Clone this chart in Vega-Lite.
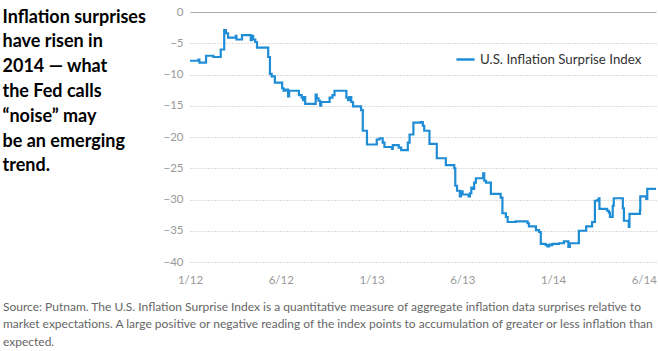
{
  "$schema": "https://vega.github.io/schema/vega-lite/v6.json",
  "width": 466,
  "height": 250,
  "padding": {"top": 6, "left": 2, "right": 2, "bottom": 4},
  "background": "white",
  "config": {
    "view": {"stroke": null},
    "font": "Lato"
  },
  "title": {
    "text": [
      "Source: Putnam. The U.S. Inflation Surprise Index is a quantitative measure of aggregate inflation data surprises relative to",
      "market expectations. A large positive or negative reading of the index points to accumulation of greater or less inflation than",
      "expected."
    ],
    "orient": "bottom",
    "anchor": "start",
    "frame": "bounds",
    "baseline": "top",
    "offset": 16,
    "dx": 1,
    "font": "Lato",
    "fontSize": 12,
    "fontWeight": "normal",
    "color": "#666666",
    "lineHeight": 17.5
  },
  "data": {
    "values": [
      {"w": 0, "v": -7.8},
      {"w": 2.4, "v": -7.6},
      {"w": 2.7, "v": -8.1},
      {"w": 4.6, "v": -7.0},
      {"w": 6.7, "v": -7.2},
      {"w": 8.8, "v": -6.0},
      {"w": 9.8, "v": -2.9},
      {"w": 10.3, "v": -3.4},
      {"w": 10.9, "v": -4.1},
      {"w": 13.1, "v": -3.8},
      {"w": 13.3, "v": -4.4},
      {"w": 14.9, "v": -3.7},
      {"w": 17.4, "v": -4.5},
      {"w": 17.7, "v": -3.8},
      {"w": 18.1, "v": -4.4},
      {"w": 18.7, "v": -4.8},
      {"w": 19.2, "v": -5.7},
      {"w": 22.4, "v": -7.2},
      {"w": 22.9, "v": -9.9},
      {"w": 23.4, "v": -10.3},
      {"w": 24.3, "v": -11.3},
      {"w": 26.4, "v": -12.2},
      {"w": 26.8, "v": -12.6},
      {"w": 27.4, "v": -12.4},
      {"w": 28.1, "v": -13.5},
      {"w": 28.4, "v": -12.6},
      {"w": 31.2, "v": -13.3},
      {"w": 32.0, "v": -13.7},
      {"w": 32.4, "v": -14.1},
      {"w": 32.7, "v": -13.6},
      {"w": 33.0, "v": -14.7},
      {"w": 36.0, "v": -13.2},
      {"w": 36.3, "v": -13.8},
      {"w": 36.8, "v": -14.2},
      {"w": 37.3, "v": -15.0},
      {"w": 37.6, "v": -14.4},
      {"w": 40.0, "v": -13.7},
      {"w": 40.8, "v": -13.3},
      {"w": 41.4, "v": -12.6},
      {"w": 44.8, "v": -13.7},
      {"w": 45.3, "v": -14.1},
      {"w": 45.7, "v": -13.6},
      {"w": 46.2, "v": -14.4},
      {"w": 46.7, "v": -15.1},
      {"w": 49.0, "v": -15.7},
      {"w": 49.5, "v": -19.0},
      {"w": 50.7, "v": -21.2},
      {"w": 53.5, "v": -20.4},
      {"w": 54.3, "v": -20.2},
      {"w": 55.2, "v": -20.9},
      {"w": 55.7, "v": -21.6},
      {"w": 57.9, "v": -21.9},
      {"w": 58.1, "v": -21.3},
      {"w": 59.8, "v": -21.7},
      {"w": 60.5, "v": -22.1},
      {"w": 62.4, "v": -20.9},
      {"w": 62.9, "v": -19.6},
      {"w": 64.0, "v": -17.7},
      {"w": 66.2, "v": -17.6},
      {"w": 66.7, "v": -18.2},
      {"w": 67.1, "v": -19.0},
      {"w": 68.6, "v": -21.1},
      {"w": 70.7, "v": -23.4},
      {"w": 73.3, "v": -24.5},
      {"w": 75.7, "v": -25.0},
      {"w": 76.0, "v": -27.8},
      {"w": 76.5, "v": -28.6},
      {"w": 77.3, "v": -29.5},
      {"w": 77.6, "v": -28.7},
      {"w": 78.1, "v": -29.2},
      {"w": 79.8, "v": -29.5},
      {"w": 80.2, "v": -29.0},
      {"w": 80.6, "v": -28.1},
      {"w": 80.9, "v": -28.3},
      {"w": 81.4, "v": -27.3},
      {"w": 81.9, "v": -26.6},
      {"w": 84.0, "v": -25.8},
      {"w": 84.3, "v": -27.0},
      {"w": 84.8, "v": -27.3},
      {"w": 86.2, "v": -29.1},
      {"w": 89.0, "v": -29.7},
      {"w": 89.5, "v": -32.2},
      {"w": 90.5, "v": -32.8},
      {"w": 91.0, "v": -33.6},
      {"w": 93.3, "v": -33.5},
      {"w": 96.7, "v": -33.8},
      {"w": 97.1, "v": -34.3},
      {"w": 99.1, "v": -34.9},
      {"w": 100.0, "v": -35.2},
      {"w": 100.5, "v": -37.1},
      {"w": 101.9, "v": -37.3},
      {"w": 102.4, "v": -37.5},
      {"w": 102.9, "v": -37.2},
      {"w": 103.3, "v": -37.3},
      {"w": 103.8, "v": -37.1},
      {"w": 105.7, "v": -37.0},
      {"w": 107.1, "v": -36.7},
      {"w": 108.4, "v": -37.6},
      {"w": 108.8, "v": -37.0},
      {"w": 111.4, "v": -35.0},
      {"w": 113.5, "v": -34.3},
      {"w": 115.2, "v": -33.6},
      {"w": 116.0, "v": -30.2},
      {"w": 116.7, "v": -30.1},
      {"w": 117.1, "v": -29.8},
      {"w": 117.3, "v": -31.5},
      {"w": 119.5, "v": -31.8},
      {"w": 120.0, "v": -32.1},
      {"w": 120.3, "v": -32.8},
      {"w": 121.0, "v": -32.7},
      {"w": 121.1, "v": -31.0},
      {"w": 121.4, "v": -29.8},
      {"w": 124.0, "v": -31.4},
      {"w": 124.3, "v": -33.4},
      {"w": 125.7, "v": -34.4},
      {"w": 125.9, "v": -32.3},
      {"w": 128.9, "v": -31.7},
      {"w": 129.0, "v": -29.5},
      {"w": 130.7, "v": -29.9},
      {"w": 131.0, "v": -28.3},
      {"w": 133.5, "v": -28.3}
    ]
  },
  "mark": {"type": "line", "interpolate": "step-after", "strokeWidth": 2.2, "strokeJoin": "miter"},
  "encoding": {
    "x": {
      "field": "w",
      "type": "quantitative",
      "scale": {"domain": [0, 133.5], "nice": false, "zero": false},
      "axis": {
        "values": [0, 26, 52, 78, 104, 130],
        "labelExpr": "datum.value == 0 ? '1/12' : datum.value == 26 ? '6/12' : datum.value == 52 ? '1/13' : datum.value == 78 ? '6/13' : datum.value == 104 ? '1/14' : '6/14'",
        "title": null,
        "grid": false,
        "domain": false,
        "ticks": false,
        "labelFlush": false,
        "labelPadding": 12,
        "labelFont": "Lato",
        "labelFontSize": 11.5,
        "labelColor": "#999999"
      }
    },
    "y": {
      "field": "v",
      "type": "quantitative",
      "scale": {"domain": [-40, 0], "nice": false},
      "axis": {
        "values": [0, -5, -10, -15, -20, -25, -30, -35, -40],
        "title": [
          "Inflation surprises",
          "have risen in",
          "2014 — what",
          "the Fed calls",
          "“noise” may",
          "be an emerging",
          "trend."
        ],
        "titleAngle": 0,
        "titleAlign": "left",
        "titleBaseline": "alphabetic",
        "titleX": -188,
        "titleY": 10,
        "titleFont": "Lato",
        "titleFontSize": 18,
        "titleFontWeight": "bold",
        "titleColor": "#000000",
        "titleLineHeight": 24.8,
        "domain": false,
        "ticks": false,
        "grid": true,
        "gridColor": {"condition": {"test": "datum.value === 0", "value": "#aaaaaa"}, "value": "#b8b8b8"},
        "gridDash": {"condition": {"test": "datum.value === 0", "value": []}, "value": [1, 2]},
        "gridWidth": 1,
        "labelPadding": 7,
        "labelFont": "Lato",
        "labelFontSize": 11.5,
        "labelColor": "#999999"
      }
    },
    "color": {
      "datum": "U.S. Inflation Surprise Index",
      "type": "nominal",
      "scale": {"range": ["#1f8dd6"]},
      "legend": {
        "title": null,
        "orient": "none",
        "legendX": 265,
        "legendY": 37,
        "symbolType": "stroke",
        "symbolSize": 330,
        "symbolStrokeWidth": 2.5,
        "labelOffset": 4,
        "labelLimit": 300,
        "labelFont": "Lato",
        "labelFontSize": 13.3,
        "labelColor": "#333333",
        "padding": 0
      }
    }
  }
}
